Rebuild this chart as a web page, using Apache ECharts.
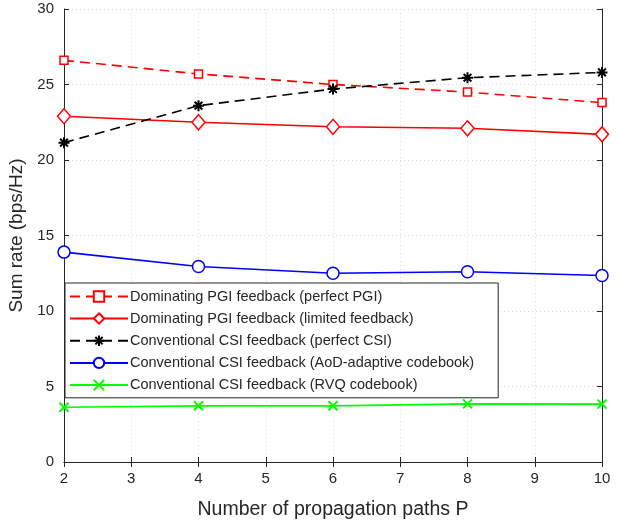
<!DOCTYPE html>
<html>
<head>
<meta charset="utf-8">
<script src="https://cdn.jsdelivr.net/npm/echarts@6/dist/echarts.min.js"></script>
<style>
html,body{margin:0;padding:0;background:#fff;}
#chart{width:617px;height:520px;}
</style>
</head>
<body>
<div id="chart"></div>
<script>
// Number of propagation paths P
const paths = [2, 4, 6, 8, 10];

// Sum rate (bps/Hz) per scheme
const pgiPerfect   = [26.6, 25.7, 25.0, 24.5, 23.8];
const pgiLimited   = [22.9, 22.5, 22.2, 22.1, 21.7];
const csiPerfect   = [21.15, 23.6, 24.7, 25.45, 25.8];
const csiAoD       = [13.9, 12.95, 12.5, 12.6, 12.35];
const csiRVQ       = [3.63, 3.72, 3.72, 3.85, 3.83];

const seriesNames = [
  'Dominating PGI feedback (perfect PGI)',
  'Dominating PGI feedback (limited feedback)',
  'Conventional CSI feedback (perfect CSI)',
  'Conventional CSI feedback (AoD-adaptive codebook)',
  'Conventional CSI feedback (RVQ codebook)'
];

const xTicks = [2, 3, 4, 5, 6, 7, 8, 9, 10];
const yTicks = [0, 5, 10, 15, 20, 25, 30];

const pairs = ys => paths.map((p, i) => [p, ys[i]]);

const asterisk = 'path://M5 0L5 10M0 5L10 5M1.5 1.5L8.5 8.5M8.5 1.5L1.5 8.5';
const cross = 'path://M0 0L10 10M10 0L0 10';

const font = 'Liberation Sans, Arial, sans-serif';
const txt = '#262626';

const chart = echarts.init(document.getElementById('chart'), null, {renderer: 'canvas'});

const baseX = {
  type: 'value', min: xTicks[0], max: xTicks[xTicks.length - 1], interval: 1,
  axisLine: {show: true, lineStyle: {color: '#262626', width: 1}},
  axisTick: {show: true, inside: true, length: 5, lineStyle: {color: '#262626'}},
};
const baseY = {
  type: 'value', min: yTicks[0], max: yTicks[yTicks.length - 1], interval: 5,
  axisLine: {show: true, lineStyle: {color: '#262626', width: 1}},
  axisTick: {show: true, inside: true, length: 5, lineStyle: {color: '#262626'}},
};

chart.setOption({
  animation: false,
  backgroundColor: '#fff',
  grid: {left: 64, right: 15, top: 9, bottom: 58, containLabel: false, outerBoundsMode: 'none'},
  xAxis: [
    Object.assign({}, baseX, {
      position: 'bottom',
      name: 'Number of propagation paths P',
      nameLocation: 'middle', nameGap: 38,
      nameTextStyle: {fontFamily: font, fontSize: 19.5, color: txt},
      axisLabel: {fontFamily: font, fontSize: 15, color: txt, margin: 9},
      splitLine: {show: true, lineStyle: {color: '#d8d8d8', type: [1, 3], width: 1}}
    }),
    Object.assign({}, baseX, {
      position: 'top', axisLabel: {show: false}, splitLine: {show: false}
    })
  ],
  yAxis: [
    Object.assign({}, baseY, {
      position: 'left',
      name: 'Sum rate (bps/Hz)',
      nameLocation: 'middle', nameGap: 37,
      nameTextStyle: {fontFamily: font, fontSize: 19, color: txt},
      axisLabel: {fontFamily: font, fontSize: 15, color: txt, margin: 10},
      splitLine: {show: true, lineStyle: {color: '#d8d8d8', type: [1, 3], width: 1}}
    }),
    Object.assign({}, baseY, {
      position: 'right', axisLabel: {show: false}, splitLine: {show: false}
    })
  ],
  legend: {
    orient: 'vertical',
    left: 65, top: 283,
    width: 460,
    padding: [6, 24, 5, 4],
    itemGap: 7,
    itemWidth: 58, itemHeight: 13,
    backgroundColor: '#fff',
    borderColor: '#262626', borderWidth: 1,
    textStyle: {fontFamily: font, fontSize: 14.5, color: txt, padding: [0, 0, 0, -3]},
    data: seriesNames
  },
  series: [
    {
      name: seriesNames[0], type: 'line', data: pairs(pgiPerfect),
      symbol: 'rect', symbolSize: 8,
      lineStyle: {color: '#ff0000', width: 1.6, type: [10, 6]},
      itemStyle: {color: '#fff', borderColor: '#ff0000', borderWidth: 1.5},
      z: 5
    },
    {
      name: seriesNames[1], type: 'line', data: pairs(pgiLimited),
      symbol: 'diamond', symbolSize: [13, 15],
      lineStyle: {color: '#ff0000', width: 1.6},
      itemStyle: {color: '#fff', borderColor: '#ff0000', borderWidth: 1.5},
      z: 5
    },
    {
      name: seriesNames[2], type: 'line', data: pairs(csiPerfect),
      symbol: asterisk, symbolSize: 11,
      lineStyle: {color: '#000', width: 1.6, type: [10, 6]},
      itemStyle: {color: 'none', borderColor: '#000', borderWidth: 2},
      z: 5
    },
    {
      name: seriesNames[3], type: 'line', data: pairs(csiAoD),
      symbol: 'circle', symbolSize: 12,
      lineStyle: {color: '#0000ff', width: 1.6},
      itemStyle: {color: '#fff', borderColor: '#0000ff', borderWidth: 1.5},
      z: 5
    },
    {
      name: seriesNames[4], type: 'line', data: pairs(csiRVQ),
      symbol: cross, symbolSize: 9,
      lineStyle: {color: '#00ff00', width: 1.6},
      itemStyle: {color: 'none', borderColor: '#00ff00', borderWidth: 2},
      z: 5
    }
  ]
});
</script>
</body>
</html>
